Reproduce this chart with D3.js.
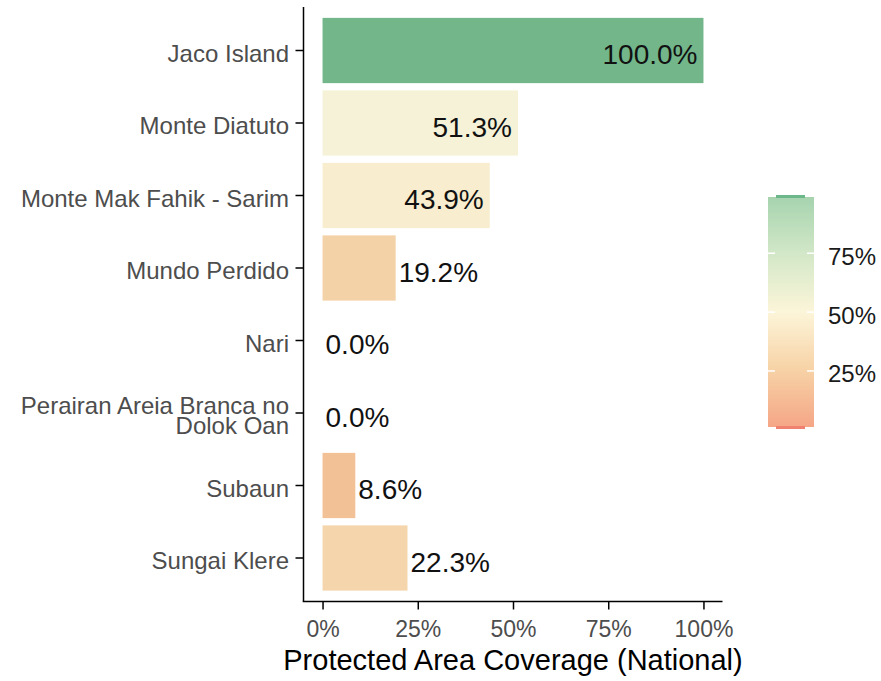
<!DOCTYPE html>
<html>
<head>
<meta charset="utf-8">
<script src="https://cdn.jsdelivr.net/npm/d3@7"></script>
<style>
  body { margin: 0; background: #fff; }
  text { font-family: "Liberation Sans", Arial, sans-serif; }
</style>
</head>
<body>
<div id="chart"></div>
<script>
var w = 881;
var h = 681;

// data
var areas = ["Jaco Island", "Monte Diatuto", "Monte Mak Fahik - Sarim", "Mundo Perdido",
  "Nari", "Perairan Areia Branca no Dolok Oan", "Subaun", "Sungai Klere"];
var coverage = [100, 51.3, 43.9, 19.2, 0, 0, 8.6, 22.3];
var xTicks = [0, 25, 50, 75, 100];
var legendTicks = [25, 50, 75];

var svg = d3.select("#chart")
  .append("svg")
  .attr("width", w)
  .attr("height", h);

var x = d3.scaleLinear()
  .domain([-5, 105])
  .range([303.5, 722.5]);

var y = d3.scaleBand()
  .domain(areas)
  .range([7, 601.5])
  .paddingInner(0.1)
  .paddingOuter(0.15);

// fill colours for bars
var fill = d3.scaleLinear()
  .domain([0, 10, 25, 50, 75, 100])
  .range(["#f4a583", "#f2c698", "#f5d9b0", "#f8f3d8", "#c6e1bd", "#72b68a"])
  .interpolate(d3.interpolateLab);

// simple word wrap like str_wrap(width = 25)
function wrap(s, width) {
  var words = s.split(" "), lines = [], cur = "";
  words.forEach(function(wd) {
    if (cur.length && (cur + " " + wd).length > width) { lines.push(cur); cur = wd; }
    else cur = cur.length ? cur + " " + wd : wd;
  });
  lines.push(cur);
  return lines;
}

// bars
svg.selectAll(".bar")
  .data(areas)
  .enter()
  .append("rect")
  .classed("bar", true)
  .attr("x", x(0))
  .attr("y", function(d) { return y(d); })
  .attr("height", y.bandwidth())
  .attr("width", function(d, i) { return x(coverage[i]) - x(0); })
  .style("fill", function(d, i) { return fill(coverage[i]); });

// value labels
svg.selectAll(".val")
  .data(areas)
  .enter()
  .append("text")
  .classed("val", true)
  .attr("x", function(d, i) { return coverage[i] > 40 ? x(coverage[i]) - 6 : x(coverage[i]) + 3; })
  .attr("y", function(d) { return y(d) + y.bandwidth() / 2 + 13.5; })
  .attr("text-anchor", function(d, i) { return coverage[i] > 40 ? "end" : "start"; })
  .style("font-size", "28px")
  .style("fill", "#111")
  .text(function(d, i) { return coverage[i].toFixed(1) + "%"; });

// y axis
var yAxis = d3.axisLeft(y).tickSize(8).tickFormat("");
var gy = svg.append("g")
  .attr("transform", "translate(" + x.range()[0] + ",0)")
  .call(yAxis);
gy.select(".domain").attr("d", "M0," + y.range()[0] + "V" + y.range()[1]);
gy.selectAll("path, line").style("stroke", "#000").style("stroke-width", "1.5px");

var ylab = svg.selectAll(".ylab")
  .data(areas)
  .enter()
  .append("text")
  .classed("ylab", true)
  .attr("text-anchor", "end")
  .style("font-size", "24px")
  .style("fill", "#4d4d4d");

ylab.each(function(d) {
  var lines = wrap(d, 25);
  var cy = y(d) + y.bandwidth() / 2;
  var base = cy + 11 - (lines.length - 1) * 10;
  d3.select(this).selectAll("tspan")
    .data(lines)
    .enter()
    .append("tspan")
    .attr("x", 289)
    .attr("y", function(l, j) { return base + j * 20; })
    .text(function(l) { return l; });
});

// x axis
var xAxis = d3.axisBottom(x)
  .tickValues(xTicks)
  .tickSize(8)
  .tickFormat(function(d) { return d + "%"; });
var gx = svg.append("g")
  .attr("transform", "translate(0," + y.range()[1] + ")")
  .call(xAxis);
gx.select(".domain").attr("d", "M" + (x.range()[0] - 0.75) + ",0H" + x.range()[1]);
gx.selectAll("path, line").style("stroke", "#000").style("stroke-width", "1.5px");
gx.selectAll("text")
  .attr("y", 0)
  .attr("dy", null)
  .attr("transform", "translate(0,35.5)")
  .style("font-size", "23px")
  .style("font-family", "'Liberation Sans', Arial, sans-serif")
  .style("fill", "#4d4d4d");

svg.append("text")
  .attr("x", (x.range()[0] + x.range()[1]) / 2)
  .attr("y", 670)
  .attr("text-anchor", "middle")
  .style("font-size", "29px")
  .style("fill", "#000")
  .text("Protected Area Coverage (National)");

// legend colourbar
var ly = d3.scaleLinear().domain([0, 100]).range([429.8, 194.4]);
var legendStops = [
  {v: 0, c: "#f5a686"}, {v: 25, c: "#f7d2a6"}, {v: 50, c: "#fcf5d9"},
  {v: 75, c: "#d3e8c8"}, {v: 100, c: "#a6d3ae"}
];
var grad = svg.append("defs").append("linearGradient")
  .attr("id", "lg")
  .attr("x1", 0).attr("y1", 1).attr("x2", 0).attr("y2", 0);
grad.selectAll("stop")
  .data(legendStops)
  .enter()
  .append("stop")
  .attr("offset", function(d) { return d.v + "%"; })
  .attr("stop-color", function(d) { return d.c; });

var lg = svg.append("g");
lg.append("rect")
  .attr("x", 768).attr("y", 197)
  .attr("width", 46).attr("height", 230)
  .style("fill", "url(#lg)");
lg.append("rect")
  .attr("x", 776).attr("y", 195).attr("width", 29).attr("height", 3)
  .style("fill", "#6db88a");
lg.append("rect")
  .attr("x", 776).attr("y", 426).attr("width", 29).attr("height", 3)
  .style("fill", "#f08070");

legendTicks.forEach(function(t) {
  lg.append("line")
    .attr("x1", 768).attr("x2", 775).attr("y1", ly(t)).attr("y2", ly(t))
    .style("stroke", "#fff").style("stroke-width", "1.5px");
  lg.append("line")
    .attr("x1", 807).attr("x2", 814).attr("y1", ly(t)).attr("y2", ly(t))
    .style("stroke", "#fff").style("stroke-width", "1.5px");
  lg.append("text")
    .attr("x", 828)
    .attr("y", ly(t) + 11.5)
    .style("font-size", "24px")
    .style("fill", "#1a1a1a")
    .text(t + "%");
});
</script>
</body>
</html>
